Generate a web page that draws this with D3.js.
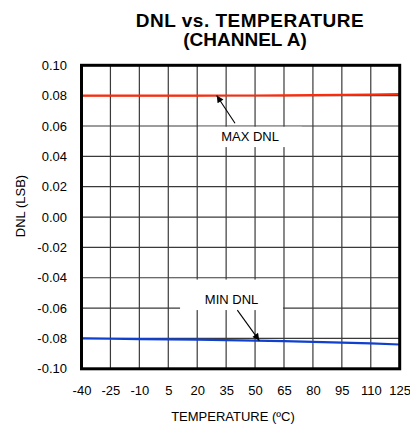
<!DOCTYPE html>
<html>
<head>
<meta charset="utf-8">
<script src="https://cdn.jsdelivr.net/npm/d3@7"></script>
<style>
  html, body { margin: 0; padding: 0; background: #fff; }
  svg { display: block; font-family: "Liberation Sans", Arial, sans-serif; }
</style>
</head>
<body>
<svg id="chart" width="410" height="430"></svg>
<script>
// Temperature sweep (°C) and DNL extremes (LSB)
const temperatures = [-40, -25, -10, 5, 20, 35, 50, 65, 80, 95, 110, 125];
const maxDnl = [0.0800, 0.0800, 0.0800, 0.0800, 0.0800, 0.0801, 0.0801, 0.0802, 0.0803, 0.0805, 0.0807, 0.0810];
const minDnl = [-0.0800, -0.0802, -0.0804, -0.0806, -0.0808, -0.0811, -0.0814, -0.0818, -0.0822, -0.0827, -0.0833, -0.0840];

const xTicks = [-40, -25, -10, 5, 20, 35, 50, 65, 80, 95, 110, 125];
const yTicks = [-0.10, -0.08, -0.06, -0.04, -0.02, 0.00, 0.02, 0.04, 0.06, 0.08, 0.10];

const seriesNames = ["MAX DNL", "MIN DNL"];
const seriesColors = ["#ff2a0a", "#1040d0"];

// Callouts, placed in data units: label box, arrow start and arrow tip
const callouts = [
  { text: "MAX DNL", box: [20.4, 74.3, 0.0595, 0.0461], label: [47.4, 0.0501], from: [39.6, 0.0618], to: [30.1, 0.0801] },
  { text: "MIN DNL", box: [11.1, 64.5, -0.0412, -0.0613], label: [37.8, -0.0573], from: [40.8, -0.0613], to: [52.2, -0.0814] }
];

const svg = d3.select("#chart");
const plotL = 81.5, plotR = 399.7, plotT = 65.3, plotB = 368.8;

const x = d3.scaleLinear().domain([-40, 125]).range([plotL, plotR]);
const y = d3.scaleLinear().domain([-0.10, 0.10]).range([plotB, plotT]);

// Title
svg.append("text").attr("x", 250).attr("y", 27).attr("text-anchor", "middle")
  .attr("font-size", 19).attr("font-weight", "bold").attr("letter-spacing", 0.5).attr("fill", "#000")
  .text("DNL vs. TEMPERATURE");
svg.append("text").attr("x", 245).attr("y", 46).attr("text-anchor", "middle")
  .attr("font-size", 19).attr("font-weight", "bold").attr("fill", "#000")
  .text("(CHANNEL A)");

// Grid
const grid = svg.append("g").attr("stroke", "#3a3a3a").attr("stroke-width", 1.2);
grid.selectAll("line.v").data(xTicks.slice(1, -1)).join("line").attr("class", "v")
  .attr("x1", d => x(d)).attr("x2", d => x(d)).attr("y1", plotT).attr("y2", plotB);
grid.selectAll("line.h").data(yTicks.slice(1, -1)).join("line").attr("class", "h")
  .attr("x1", plotL).attr("x2", plotR).attr("y1", d => y(d)).attr("y2", d => y(d));

// Label boxes blank out the grid behind the callout text
svg.append("g").selectAll("rect").data(callouts).join("rect")
  .attr("x", d => x(d.box[0])).attr("y", d => y(d.box[2]))
  .attr("width", d => x(d.box[1]) - x(d.box[0]))
  .attr("height", d => y(d.box[3]) - y(d.box[2]))
  .attr("fill", "#fff");

// Series
[maxDnl, minDnl].forEach((vals, k) => {
  svg.append("path")
    .attr("class", "series")
    .attr("data-name", seriesNames[k])
    .attr("d", d3.line().x((d, i) => x(temperatures[i])).y(d => y(d))(vals))
    .attr("fill", "none").attr("stroke", seriesColors[k]).attr("stroke-width", 2.2);
});

// Arrow marker
svg.append("defs").append("marker").attr("id", "arrow")
  .attr("viewBox", "0 0 10 10").attr("refX", 10).attr("refY", 5)
  .attr("markerWidth", 9).attr("markerHeight", 7).attr("markerUnits", "userSpaceOnUse")
  .attr("orient", "auto")
  .append("path").attr("d", "M0,0 L10,5 L0,10 Z").attr("fill", "#000");

svg.append("g").selectAll("line").data(callouts).join("line")
  .attr("x1", d => x(d.from[0])).attr("y1", d => y(d.from[1]))
  .attr("x2", d => x(d.to[0])).attr("y2", d => y(d.to[1]))
  .attr("stroke", "#000").attr("stroke-width", 1.1).attr("marker-end", "url(#arrow)");

svg.append("g").selectAll("text").data(callouts).join("text")
  .attr("x", d => x(d.label[0])).attr("y", d => y(d.label[1]))
  .attr("text-anchor", "middle").attr("font-size", 13).attr("fill", "#000")
  .text(d => d.text);

// Axes
const yAxis = svg.append("g").attr("transform", `translate(${plotL},0)`)
  .call(d3.axisLeft(y).tickValues(yTicks).tickSize(0).tickPadding(14.5).tickFormat(d => d.toFixed(2)));
yAxis.select(".domain").remove();
yAxis.selectAll("text").attr("font-size", 13).attr("font-family", "Liberation Sans, Arial, sans-serif").attr("fill", "#000");

const xAxis = svg.append("g").attr("transform", `translate(0,${plotB})`)
  .call(d3.axisBottom(x).tickValues(xTicks).tickSize(0).tickPadding(16.5).tickFormat(d => String(d)));
xAxis.select(".domain").remove();
xAxis.selectAll("text").attr("font-size", 13).attr("font-family", "Liberation Sans, Arial, sans-serif").attr("fill", "#000");

// Frame
svg.append("rect").attr("x", plotL).attr("y", plotT)
  .attr("width", plotR - plotL).attr("height", plotB - plotT)
  .attr("fill", "none").attr("stroke", "#000").attr("stroke-width", 3);

// Axis titles
svg.append("text").attr("x", 233).attr("y", 421).attr("text-anchor", "middle")
  .attr("font-size", 13).attr("fill", "#000").text("TEMPERATURE  (ºC)");
svg.append("text").attr("transform", "translate(24.5,206) rotate(-90)")
  .attr("text-anchor", "middle").attr("font-size", 13).attr("fill", "#000")
  .text("DNL (LSB)");
</script>
</body>
</html>
